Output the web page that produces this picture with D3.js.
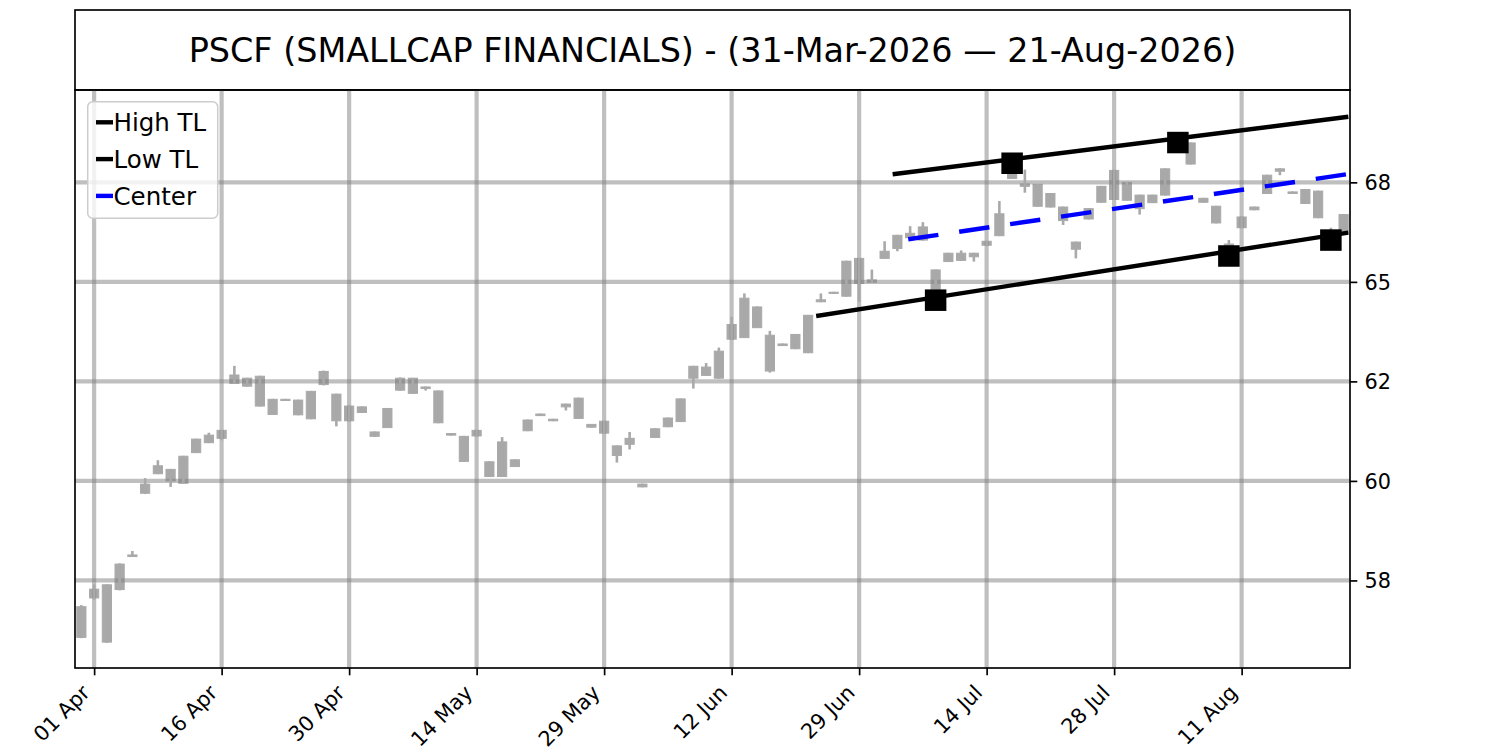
<!DOCTYPE html>
<html>
<head>
<meta charset="utf-8">
<script src="https://cdn.jsdelivr.net/npm/d3@7"></script>
<style>
	body { margin: 0; background: #fff; }
	svg text { font-family: "DejaVu Sans", sans-serif; fill: #000; }
</style>
</head>
<body>
<div id="chart"></div>
<script>

var title = "PSCF (SMALLCAP FINANCIALS) - (31-Mar-2026 \u2014 21-Aug-2026)";

// one candle per trading day, 31-Mar-2026 .. 21-Aug-2026 (index 0..99)
var opens = [
	56.07, 57.06, 55.95, 57.27, 58.10, 59.92, 60.18, 60.29, 59.94, 60.71,
	60.96, 61.07, 62.45, 62.58, 62.63, 62.05, 62.02, 61.66, 62.25, 62.42,
	62.18, 61.51, 61.86, 61.23, 61.34, 62.28, 62.58, 62.36, 62.26, 61.19,
	61.12, 61.13, 60.48, 60.11, 60.53, 61.26, 61.64, 61.55, 61.86, 62.08,
	61.42, 61.20, 60.88, 60.92, 59.92, 61.09, 61.36, 61.49, 62.88, 62.65,
	62.58, 63.56, 63.60, 64.37, 63.66, 63.40, 63.32, 63.22, 64.50, 64.71,
	64.64, 65.59, 64.99, 65.59, 65.84, 66.11, 66.05, 65.30, 65.51, 65.72,
	65.72, 65.92, 66.16, 67.90, 67.46, 67.45, 67.22, 66.88, 66.00, 66.58,
	67.00, 67.07, 67.50, 67.18, 66.99, 67.18, 68.35, 68.49, 67.10, 66.90,
	65.95, 66.36, 66.81, 67.22, 67.84, 67.26, 67.32, 67.28, 66.25, 66.23
];
var highs = [
	56.88, 57.40, 57.40, 57.93, 58.24, 60.07, 60.52, 60.30, 60.63, 61.06,
	61.21, 61.28, 62.89, 62.59, 62.64, 62.06, 62.06, 62.04, 62.26, 62.77,
	62.19, 61.89, 61.87, 61.24, 61.83, 62.60, 62.59, 62.37, 62.27, 61.20,
	61.13, 61.28, 60.49, 61.10, 60.54, 61.54, 61.69, 61.56, 61.94, 62.09,
	61.43, 61.51, 60.89, 61.23, 59.93, 61.32, 61.59, 62.07, 62.89, 62.96,
	63.35, 64.12, 64.71, 64.38, 63.77, 63.45, 63.69, 64.17, 64.71, 64.75,
	65.53, 65.60, 65.31, 66.02, 66.18, 66.40, 66.50, 65.31, 65.73, 65.79,
	65.73, 66.03, 67.03, 67.98, 67.82, 67.46, 67.23, 66.89, 66.01, 66.85,
	67.41, 67.81, 67.51, 67.19, 67.19, 67.85, 68.52, 68.50, 67.11, 66.91,
	66.05, 66.64, 66.89, 67.69, 67.85, 67.27, 67.33, 67.29, 66.36, 66.70
];
var lows = [
	56.05, 57.02, 55.93, 57.25, 58.09, 59.67, 60.17, 59.85, 59.93, 60.70,
	60.95, 61.02, 62.44, 62.37, 61.87, 61.66, 62.01, 61.65, 61.55, 62.40,
	61.37, 61.50, 61.71, 61.11, 61.33, 62.26, 62.19, 62.27, 61.45, 61.14,
	60.48, 61.12, 60.10, 60.10, 60.35, 61.25, 61.63, 61.50, 61.77, 61.56,
	61.34, 61.19, 60.46, 60.79, 59.84, 61.08, 61.35, 61.48, 62.32, 62.64,
	62.57, 63.55, 63.59, 63.84, 62.72, 63.39, 63.31, 63.21, 64.49, 64.70,
	64.63, 64.50, 64.98, 65.58, 65.77, 66.07, 66.04, 64.54, 65.50, 65.53,
	65.51, 65.91, 66.15, 67.59, 67.24, 66.89, 66.87, 66.43, 65.59, 66.57,
	66.99, 67.06, 67.04, 66.69, 66.98, 67.17, 68.30, 67.95, 66.99, 66.47,
	65.65, 66.35, 66.80, 67.21, 67.68, 67.21, 66.96, 66.60, 66.05, 66.22
];
var closes = [
	56.84, 57.28, 57.39, 57.91, 58.14, 59.69, 60.38, 60.00, 60.62, 61.05,
	61.15, 61.27, 62.66, 62.38, 61.88, 61.67, 62.05, 62.03, 61.56, 62.75,
	61.51, 61.88, 61.72, 61.12, 61.82, 62.58, 62.20, 62.32, 61.46, 61.15,
	60.49, 61.27, 60.11, 60.98, 60.36, 61.53, 61.68, 61.51, 61.93, 61.57,
	61.35, 61.50, 60.64, 61.07, 59.85, 61.31, 61.58, 62.06, 62.58, 62.86,
	63.26, 63.93, 64.59, 63.85, 62.76, 63.44, 63.68, 64.16, 64.55, 64.74,
	65.52, 64.96, 65.05, 65.77, 66.17, 66.22, 66.38, 64.75, 65.72, 65.54,
	65.63, 66.02, 66.71, 67.60, 67.40, 66.90, 66.88, 66.54, 65.82, 66.84,
	67.40, 67.80, 67.05, 66.84, 67.18, 67.84, 68.50, 67.96, 67.00, 66.48,
	65.75, 66.63, 66.88, 67.68, 67.78, 67.22, 66.97, 66.61, 66.15, 66.69
];

var tickIdx = [1, 11, 21, 31, 41, 51, 61, 71, 81, 91];
var tickLabels = ["01 Apr", "16 Apr", "30 Apr", "14 May", "29 May", "12 Jun", "29 Jun", "14 Jul", "28 Jul", "11 Aug"];

var priceTicks = [57.5, 60, 62.5, 65, 67.5];
var priceLabels = ["58", "60", "62", "65", "68"];

// trend lines: [start, end] in candle index / price
var highTLIdx = [63.8, 99.2], highTLVal = [67.71, 69.14];
var lowTLIdx = [57.8, 99.2], lowTLVal = [64.15, 66.23];
var centerIdx = [64.85, 99.2], centerVal = [66.07, 67.70];

// pivot points on the trend lines
var pivotIdx = [67, 73, 86, 90, 98];
var pivotVal = [64.54, 67.98, 68.50, 65.65, 66.05];

var legendNames = ["High TL", "Low TL", "Center"];
var legendColors = ["#000000", "#000000", "#0000ff"];


var W = 1500, H = 750,
	plot = {left: 75, right: 1350, top: 90, bottom: 668},
	head = {top: 10, bottom: 90},
	candleColor = "#a9a9a9",
	fontSize = 20.8,
	lw = 4.4;

var x = d3.scaleLinear().domain([-0.5, opens.length - 0.5]).range([plot.left, plot.right]);
var y = d3.scaleLinear().domain([55.30, 69.82]).range([plot.bottom, plot.top]);

var svg = d3.select("#chart")
	.append("svg")
		.attr("width", W)
		.attr("height", H);

svg.append("rect")
	.attr("width", W)
	.attr("height", H)
	.attr("fill", "#fff");

svg.append("defs").append("clipPath")
	.attr("id", "plotclip")
	.append("rect")
		.attr("x", plot.left)
		.attr("y", plot.top)
		.attr("width", plot.right - plot.left)
		.attr("height", plot.bottom - plot.top);

// title box
svg.append("rect")
	.attr("x", plot.left)
	.attr("y", head.top)
	.attr("width", plot.right - plot.left)
	.attr("height", head.bottom - head.top)
	.attr("fill", "none")
	.attr("stroke", "#000")
	.attr("stroke-width", 1.67);

svg.append("text")
	.attr("x", (plot.left + plot.right) / 2)
	.attr("y", 61.5)
	.attr("text-anchor", "middle")
	.style("font-size", "33.4px")
	.text(title);


var area = svg.append("g").attr("clip-path", "url(#plotclip)");
var idx = d3.range(opens.length);
var bw = (x(1) - x(0)) * 0.72;

// candle bodies
area.append("g")
	.selectAll("rect")
	.data(idx)
	.enter().append("rect")
		.attr("x", function(i) { return x(i) - bw / 2; })
		.attr("y", function(i) { return y(Math.max(opens[i], closes[i])); })
		.attr("width", bw)
		.attr("height", function(i) { return Math.max(0.5, y(Math.min(opens[i], closes[i])) - y(Math.max(opens[i], closes[i]))); })
		.attr("fill", candleColor)
		.attr("stroke", candleColor)
		.attr("stroke-width", 1);

// grid
var grid = area.append("g")
	.attr("stroke", "#808080")
	.attr("stroke-opacity", 0.5)
	.attr("stroke-width", 4.17);

grid.selectAll("line.v")
	.data(tickIdx)
	.enter().append("line")
		.attr("class", "v")
		.attr("x1", function(d) { return x(d); })
		.attr("x2", function(d) { return x(d); })
		.attr("y1", plot.top)
		.attr("y2", plot.bottom);

grid.selectAll("line.h")
	.data(priceTicks)
	.enter().append("line")
		.attr("class", "h")
		.attr("x1", plot.left)
		.attr("x2", plot.right)
		.attr("y1", function(d) { return y(d); })
		.attr("y2", function(d) { return y(d); });

// wicks
area.append("g")
	.selectAll("line")
	.data(idx)
	.enter().append("line")
		.attr("x1", function(i) { return x(i); })
		.attr("x2", function(i) { return x(i); })
		.attr("y1", function(i) { return y(highs[i]); })
		.attr("y2", function(i) { return y(lows[i]); })
		.attr("stroke", candleColor)
		.attr("stroke-width", 2.6);

// trend lines
var line = d3.line()
	.x(function(d) { return x(d[0]); })
	.y(function(d) { return y(d[1]); });

area.append("path")
	.datum(d3.zip(highTLIdx, highTLVal))
	.attr("d", line)
	.attr("fill", "none")
	.attr("stroke", "#000")
	.attr("stroke-width", lw)
	.attr("stroke-linecap", "square");

area.append("path")
	.datum(d3.zip(lowTLIdx, lowTLVal))
	.attr("d", line)
	.attr("fill", "none")
	.attr("stroke", "#000")
	.attr("stroke-width", lw)
	.attr("stroke-linecap", "square");

area.append("path")
	.datum(d3.zip(centerIdx, centerVal))
	.attr("d", line)
	.attr("fill", "none")
	.attr("stroke", "#0000ff")
	.attr("stroke-width", lw)
	.attr("stroke-dasharray", "30.5,21");

var sq = 21.5;
area.append("g")
	.selectAll("rect")
	.data(d3.zip(pivotIdx, pivotVal))
	.enter().append("rect")
		.attr("x", function(d) { return x(d[0]) - sq / 2; })
		.attr("y", function(d) { return y(d[1]) - sq / 2; })
		.attr("width", sq)
		.attr("height", sq)
		.attr("fill", "#000");


// axes
var xAxis = d3.axisBottom(x)
	.tickValues(tickIdx)
	.tickFormat(function(d, i) { return tickLabels[i]; })
	.tickSizeInner(7.3)
	.tickSizeOuter(0);

var gx = svg.append("g")
	.attr("transform", "translate(0," + plot.bottom + ")")
	.call(xAxis);

gx.select(".domain").remove();
gx.selectAll(".tick line").attr("stroke", "#000").attr("stroke-width", 1.67);
gx.selectAll(".tick text")
	.attr("x", -3.5)
	.attr("y", 26)
	.attr("dy", null)
	.attr("text-anchor", "end")
	.attr("transform", "rotate(-45,-3.5,26)")
	.style("font-size", fontSize + "px")
	.attr("fill", "#000");

var yAxis = d3.axisRight(y)
	.tickValues(priceTicks)
	.tickFormat(function(d, i) { return priceLabels[i]; })
	.tickSizeInner(7.3)
	.tickSizeOuter(0)
	.tickPadding(7.3);

var gy = svg.append("g")
	.attr("transform", "translate(" + plot.right + ",0)")
	.call(yAxis);

gy.select(".domain").remove();
gy.selectAll(".tick line").attr("stroke", "#000").attr("stroke-width", 1.67);
gy.selectAll(".tick text")
	.attr("dy", "0.36em")
	.style("font-size", fontSize + "px")
	.attr("fill", "#000");

// frame
svg.append("rect")
	.attr("x", plot.left)
	.attr("y", plot.top)
	.attr("width", plot.right - plot.left)
	.attr("height", plot.bottom - plot.top)
	.attr("fill", "none")
	.attr("stroke", "#000")
	.attr("stroke-width", 1.67);


// legend
var legend = svg.append("g");

legend.append("rect")
	.attr("x", 87.7)
	.attr("y", 101.7)
	.attr("width", 130)
	.attr("height", 116.6)
	.attr("rx", 5)
	.attr("fill", "#fff")
	.attr("fill-opacity", 0.8)
	.attr("stroke", "#cccccc")
	.attr("stroke-width", 1.5);

var items = legend.selectAll("g.item")
	.data(legendNames)
	.enter().append("g")
		.attr("class", "item")
		.attr("transform", function(d, i) { return "translate(0," + (122.3 + i * 36.8) + ")"; });

items.append("line")
	.attr("x1", 96)
	.attr("x2", 113)
	.attr("stroke", function(d, i) { return legendColors[i]; })
	.attr("stroke-width", lw);

items.append("text")
	.attr("x", 113.5)
	.attr("y", 8.6)
	.style("font-size", "24.5px")
	.text(function(d) { return d; });

</script>
</body>
</html>
